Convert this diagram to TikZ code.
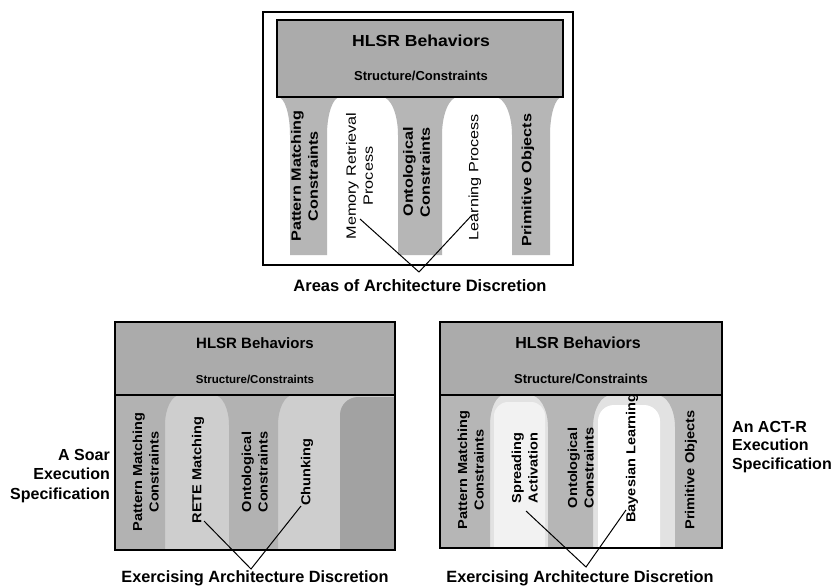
\documentclass[tikz,border=0pt]{standalone}
\usepackage{fontspec}
\setmainfont{Liberation Sans}
\definecolor{hlsrgray}{HTML}{ABABAB}
\definecolor{pillargray}{HTML}{B6B6B6}
\definecolor{soarpillar}{HTML}{B2B2B2}
\definecolor{soarbase}{HTML}{CECECE}
\definecolor{soardark}{HTML}{A2A2A2}
\definecolor{actbase}{HTML}{E2E2E2}
\definecolor{paleband}{HTML}{F2F2F2}
% pillar with concave flared top: style, x-left, x-right, left flare, right flare, flare depth, y-top, y-bottom
\newcommand{\pillarshape}[8]{%
  \fill[#1] ({#2-#4},#7) .. controls ({#2-0.45*#4},#7) and (#2,{#7+0.45*#6}) .. (#2,{#7+#6})
    -- (#2,#8) -- (#3,#8) -- (#3,{#7+#6})
    .. controls (#3,{#7+0.45*#6}) and ({#3+0.45*#5},#7) .. ({#3+#5},#7) -- cycle;}
\tikzset{
  frame/.style={draw=black, line width=1.4pt},
  hlsrbox/.style={draw=black, line width=1.2pt, fill=hlsrgray},
  pillar/.style={fill=pillargray},
  coltext/.style={rotate=90, align=center, inner sep=0pt},
  bigtitle/.style={inner sep=0pt, font=\bfseries\fontsize{16}{18}\selectfont},
  subtitle/.style={inner sep=0pt, font=\bfseries\fontsize{13}{15}\selectfont},
  caption/.style={inner sep=0pt, font=\bfseries\fontsize{16.3}{19}\selectfont},
  lead/.style={draw=black, line width=1pt},
}
\newcommand{\topcol}[1]{\scalebox{1.2}[1]{\fontsize{13.5}{17}\selectfont\begin{tabular}{@{}c@{}}#1\end{tabular}}}
\newcommand{\lowcol}[1]{\scalebox{1.12}[1]{\fontsize{13}{16.5}\selectfont\begin{tabular}{@{}c@{}}#1\end{tabular}}}
\begin{document}
\begin{tikzpicture}[x=1pt,y=-1pt]
\useasboundingbox (0,0) rectangle (835,586);
\fill[white] (0,0) rectangle (835,586);

% ---- upper diagram: areas of discretion ----
\draw[frame] (263,12) rectangle (573,265);
\pillarshape{pillar}{290}{327}{12}{13}{38}{97}{255}
\pillarshape{pillar}{398}{442}{16}{16}{38}{97}{255}
\pillarshape{pillar}{512}{550}{17}{12}{38}{97}{255}
\draw[hlsrbox] (277,20) rectangle (563,97);
\node[bigtitle] (t-hlsr) at (421,41) {\scalebox{1.1}[1]{HLSR Behaviors}};
\node[subtitle] (t-struct) at (421,76) {Structure/Constraints};
\node[coltext, font=\bfseries] (t-pm) at (306,176) {\topcol{Pattern Matching\\Constraints}};
\node[coltext] (t-mem) at (361,176) {\topcol{Memory Retrieval\\Process}};
\node[coltext, font=\bfseries] (t-onto) at (418,172) {\topcol{Ontological\\Constraints}};
\node[coltext] (t-learn) at (475,177) {\topcol{Learning Process}};
\node[coltext, font=\bfseries] (t-prim) at (528,180) {\topcol{Primitive Objects}};
\node[caption, font=\bfseries\fontsize{16.5}{19}\selectfont] (t-areas) at (420,286) {Areas of Architecture Discretion};
\coordinate (t-a1) at (360,219);
\coordinate (t-a2) at (472,215);
\coordinate (t-apex) at (419,272);
\draw[lead] (t-a1) -- (t-apex) -- (t-a2);

% ---- lower left diagram: Soar ----
\fill[soarbase] (115,395) rectangle (395,550);
\pillarshape{fill=soarpillar}{115}{165}{0}{15}{30}{395}{550}
\pillarshape{fill=soarpillar}{229}{278}{15}{15}{30}{395}{550}
\fill[soardark] (340,550) -- (340,415) arc[start angle=180, end angle=270, radius=18] -- (395,397) -- (395,550) -- cycle;
\fill[hlsrgray] (115,322) rectangle (395,395);
\draw[frame, line width=1.2pt] (115,322) rectangle (395,550);
\draw[line width=1.2pt] (115,395) -- (395,395);
\node[bigtitle, font=\bfseries\fontsize{15}{17}\selectfont] (s-hlsr) at (255,343) {HLSR Behaviors};
\node[subtitle, font=\bfseries\fontsize{11.5}{13}\selectfont] (s-struct) at (255,379) {Structure/Constraints};
\node[coltext, font=\bfseries] (s-pm) at (147,472) {\lowcol{Pattern Matching\\Constraints}};
\node[coltext, font=\bfseries] (s-rete) at (198,470) {\lowcol{RETE Matching}};
\node[coltext, font=\bfseries] (s-onto) at (256,472) {\lowcol{Ontological\\Constraints}};
\node[coltext, font=\bfseries] (s-chunk) at (307,472) {\lowcol{Chunking}};
\node[caption, align=right, anchor=east, font=\bfseries\fontsize{16}{19.5}\selectfont] (s-spec) at (110,476) {A Soar\\Execution\\Specification};
\node[caption] (s-ex) at (255,578) {Exercising Architecture Discretion};
\coordinate (s-a1) at (204,521);
\coordinate (s-a2) at (301,506);
\coordinate (s-apex) at (251,569);
\draw[lead] (s-a1) -- (s-apex) -- (s-a2);

% ---- lower right diagram: ACT-R ----
\fill[actbase] (440,395) rectangle (722,548);
\fill[paleband, rounded corners=14pt] (494,548) -- (494,402) -- (545,402) -- (545,548);
\fill[white, rounded corners=16pt] (598,548) -- (598,405) -- (660,405) -- (660,548);
\pillarshape{pillar}{440}{490}{0}{14}{30}{395}{548}
\pillarshape{pillar}{548}{593}{18}{18}{32}{395}{548}
\pillarshape{pillar}{675}{722}{18}{0}{32}{395}{548}
\fill[hlsrgray] (440,322) rectangle (722,395);
\draw[frame, line width=1.2pt] (440,322) rectangle (722,548);
\draw[line width=1.2pt] (440,395) -- (722,395);
\node[bigtitle, font=\bfseries\fontsize{16}{18}\selectfont] (r-hlsr) at (578,343) {HLSR Behaviors};
\node[subtitle] (r-struct) at (581,379) {Structure/Constraints};
\node[coltext, font=\bfseries] (r-pm) at (472,470) {\lowcol{Pattern Matching\\Constraints}};
\node[coltext, font=\bfseries] (r-spread) at (526,468) {\lowcol{Spreading\\Activation}};
\node[coltext, font=\bfseries] (r-onto) at (582,468) {\lowcol{Ontological\\Constraints}};
\node[coltext, font=\bfseries] (r-bayes) at (632,458) {\lowcol{Bayesian Learning}};
\node[coltext, font=\bfseries] (r-prim) at (691,470) {\lowcol{Primitive Objects}};
\node[caption, align=left, anchor=west, font=\bfseries\fontsize{16}{18.5}\selectfont] (r-spec) at (732,447) {An ACT-R\\Execution\\Specification};
\node[caption] (r-ex) at (580,578) {Exercising Architecture Discretion};
\coordinate (r-a1) at (526,511);
\coordinate (r-a2) at (626,510);
\coordinate (r-apex) at (586,567);
\draw[lead] (r-a1) -- (r-apex) -- (r-a2);
\end{tikzpicture}
\end{document}
